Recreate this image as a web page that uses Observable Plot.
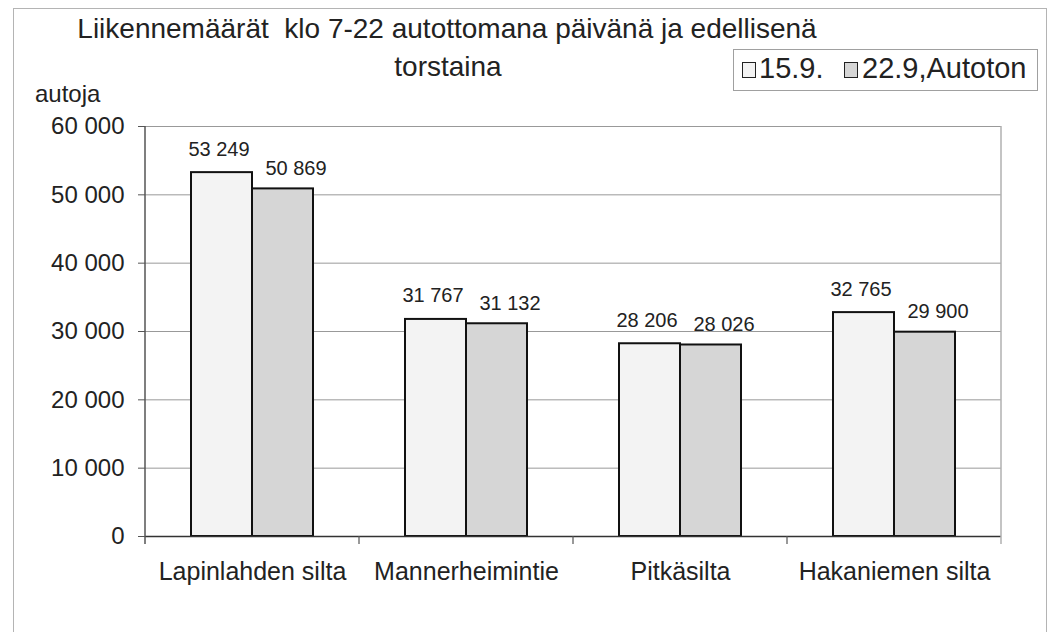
<!DOCTYPE html>
<html>
<head>
<meta charset="utf-8">
<script src="https://cdn.jsdelivr.net/npm/d3@7"></script>
<script src="https://cdn.jsdelivr.net/npm/@observablehq/plot@0.6"></script>
<style>
  html, body { margin: 0; padding: 0; background: #fff; }
  body { width: 1051px; height: 632px; position: relative; overflow: hidden;
         font-family: "Liberation Sans", Arial, sans-serif; color: #222; }
  .abs { position: absolute; white-space: nowrap; line-height: 1; }
  #chart { position: absolute; left: 0; top: 0; }
  #frame { position: absolute; left: 13px; top: 8px; width: 1034px; height: 700px;
           border: 1.5px solid #b4b4b4; box-sizing: border-box; pointer-events: none; }
  #legend { position: absolute; left: 733px; top: 49px; width: 305px; height: 42px;
            border: 1.5px solid #a0a0a0; box-sizing: border-box; background: #fff; }
  .sw { position: absolute; width: 14px; height: 16px; border: 1.5px solid #222; box-sizing: border-box; }
</style>
</head>
<body>
<div id="chart"></div>
<div id="frame"></div>
<div class="abs" style="left:0;width:894px;text-align:center;top:15px;font-size:28px;">Liikennemäärät&nbsp; klo 7-22 autottomana päivänä ja edellisenä</div>
<div class="abs" style="left:0;width:896px;text-align:center;top:53px;font-size:28px;">torstaina</div>
<div class="abs" style="left:35px;top:82px;font-size:24px;">autoja</div>
<div id="legend"></div>
<script>
const categories = ["Lapinlahden silta", "Mannerheimintie", "Pitkäsilta", "Hakaniemen silta"];
const series = ["15.9.", "22.9,Autoton"];
const values1509 = [53249, 31767, 28206, 32765];
const values2209 = [50869, 31132, 28026, 29900];
const yTicks = [0, 10000, 20000, 30000, 40000, 50000, 60000];
const seriesColors = ["#f3f3f3", "#d6d6d6"];

const data = [];
categories.forEach((c, i) => {
  data.push({cat: c, series: series[0], value: values1509[i]});
  data.push({cat: c, series: series[1], value: values2209[i]});
});

const fmt = v => d3.format(",")(v).replace(/,/g, " ");

const plot = Plot.plot({
  width: 1051,
  height: 632,
  marginLeft: 143,
  marginRight: 49,
  marginTop: 126,
  marginBottom: 96,
  style: {fontFamily: "Liberation Sans, Arial, sans-serif", fontSize: "24px", color: "#222", background: "transparent", overflow: "visible"},
  fx: {domain: categories, padding: 0, label: null},
  x: {domain: series, paddingInner: 0, paddingOuter: 0.75, axis: null},
  y: {domain: [0, 60000], label: null},
  color: {domain: series, range: seriesColors},
  marks: [
    Plot.gridY(yTicks, {stroke: "#999", strokeOpacity: 1, strokeWidth: 1}),
    Plot.axisY(yTicks, {tickFormat: fmt, tickSize: 7, tickPadding: 14, fontSize: 24, stroke: "#555", label: null}),
    Plot.axisFx({anchor: "bottom", tickSize: 0, tickPadding: 26, fontSize: 25, label: null}),
    Plot.barY(data, {fx: "cat", x: "series", y: "value", fill: "series", stroke: "#111", strokeWidth: 2}),
    Plot.ruleY([0], {stroke: "#333", strokeWidth: 1.5}),
    Plot.text(data.filter(d => d.series === series[0]), {fx: "cat", x: "series", y: "value", text: d => fmt(d.value), lineAnchor: "bottom", dy: -17, dx: -3, fontSize: 20, fill: "#222"}),
    Plot.text(data.filter(d => d.series === series[1]), {fx: "cat", x: "series", y: "value", text: d => fmt(d.value), lineAnchor: "bottom", dy: -14, dx: 13, fontSize: 20, fill: "#222"})
  ]
});

document.getElementById("chart").appendChild(plot);

// axis lines and category boundary ticks derived from the plot's scales
const fxs = plot.scale("fx");
const ys = plot.scale("y");
const bw = fxs.bandwidth;
const bounds = categories.map(c => fxs.apply(c)).concat([fxs.apply(categories[categories.length - 1]) + bw]);
const y0 = ys.apply(0), yTop = ys.apply(60000);
const g = d3.select(plot).append("g");
g.append("line").attr("x1", bounds[bounds.length - 1]).attr("x2", bounds[bounds.length - 1])
  .attr("y1", yTop).attr("y2", y0 + 8).attr("stroke", "#b0b0b0").attr("stroke-width", 1.5);
g.append("line").attr("x1", bounds[0]).attr("x2", bounds[0])
  .attr("y1", yTop).attr("y2", y0 + 8).attr("stroke", "#555").attr("stroke-width", 1.5);
g.selectAll("line.bt").data(bounds.slice(1, -1)).join("line").attr("class", "bt")
  .attr("x1", d => d).attr("x2", d => d).attr("y1", y0).attr("y2", y0 + 8)
  .attr("stroke", "#555").attr("stroke-width", 1.2);

// legend
const legend = document.getElementById("legend");
const legendItems = [
  {sw: 8, tx: 25},
  {sw: 110, tx: 128}
];
series.forEach((s, i) => {
  const sw = document.createElement("div");
  sw.className = "sw";
  sw.style.left = legendItems[i].sw + "px";
  sw.style.top = "12px";
  sw.style.background = seriesColors[i];
  legend.appendChild(sw);
  const t = document.createElement("div");
  t.className = "abs";
  t.style.left = legendItems[i].tx + "px";
  t.style.top = "4px";
  t.style.fontSize = "29px";
  t.textContent = s;
  legend.appendChild(t);
});
</script>
</body>
</html>
